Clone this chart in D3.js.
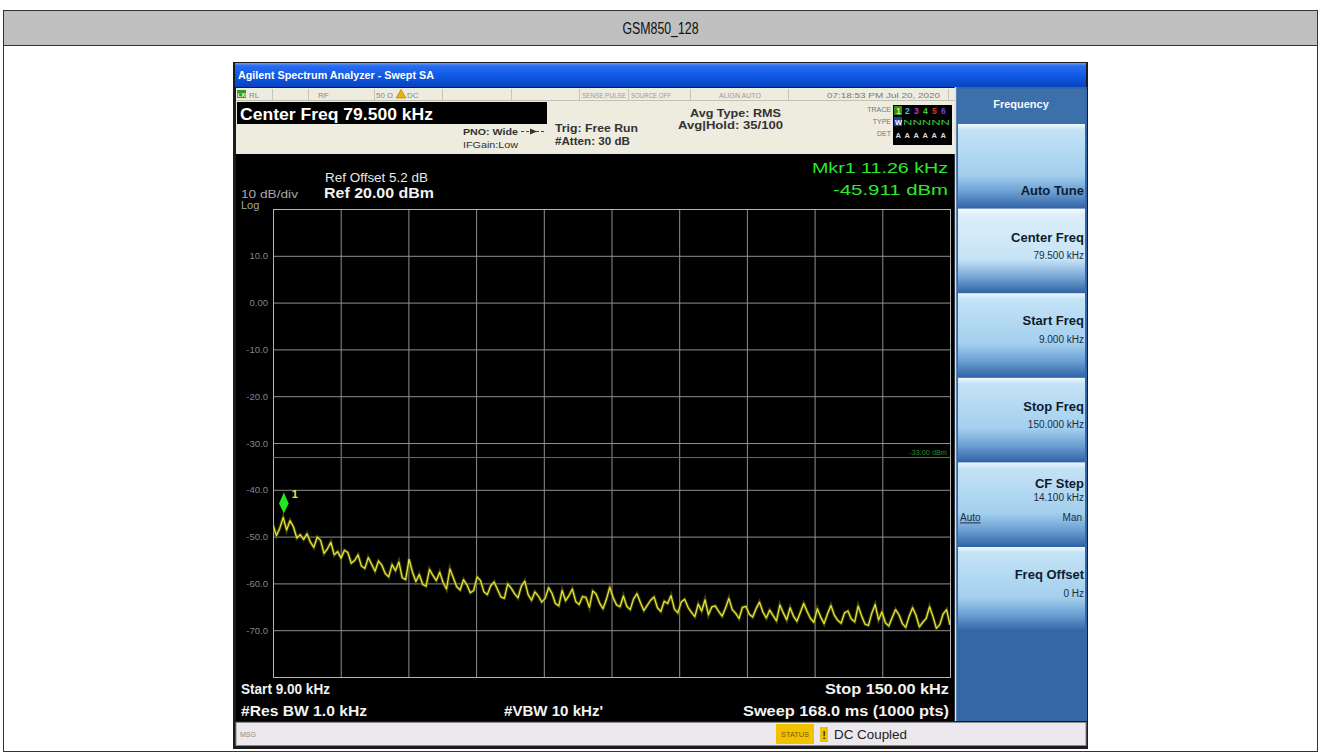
<!DOCTYPE html>
<html>
<head>
<meta charset="utf-8">
<script src="https://cdn.jsdelivr.net/npm/d3@7"></script>
<style>
  body { margin: 0; background: #fff; }
  text { font-family: "Liberation Sans", Arial, sans-serif; }
</style>
</head>
<body>
<svg id="chart" width="1321" height="755"></svg>
<script>
// ---- chart values ----
var chartTitle = "GSM850_128";
var startFreq = 9.0, stopFreq = 150.0;           // kHz
var refLevel = 20, dbPerDiv = 10, numDivs = 10;   // dBm
var yTickValues = [10, 0, -10, -20, -30, -40, -50, -60, -70];
var yTickLabels = ["10.0", "0.00", "-10.0", "-20.0", "-30.0", "-40.0", "-50.0", "-60.0", "-70.0"];
var displayLine = -33.0;
var markerFreq = 11.26, markerLevel = -45.911;

// trace levels (dBm), evenly spaced over the sweep
var traceLevels = [
  -47.5, -49.8, -48.2, -45.9, -48.6, -46.6, -47.9, -50.3, -49.6, -50.6,
  -49.4, -51.2, -52.3, -50.1, -50.8, -53.6, -52.6, -51.2, -53.9, -53.2,
  -54.6, -52.9, -53.4, -55.7, -55.1, -53.9, -56.3, -56.8, -54.5, -55.9,
  -57.4, -55.2, -56.1, -57.9, -58.6, -56.0, -57.3, -55.4, -58.8, -59.2,
  -54.8, -57.6, -59.6, -58.1, -60.2, -60.6, -57.0, -58.3, -59.4, -57.6,
  -59.8, -61.2, -56.9, -58.8, -60.7, -61.4, -59.2, -60.3, -62.0, -61.5,
  -58.6, -59.4, -61.8, -62.4, -60.5, -59.7, -61.3, -62.9, -63.2, -60.1,
  -61.0, -62.2, -63.1, -60.6, -59.5, -62.4, -63.6, -61.8, -62.7, -64.0,
  -63.2, -60.9, -62.1, -64.3, -64.8, -61.5, -63.7, -62.6, -61.2, -63.9,
  -64.5, -62.8, -63.0, -65.1, -61.6, -62.3, -64.2, -65.4, -63.4, -60.8,
  -63.1, -64.6, -65.0, -62.7, -64.9, -65.6, -63.3, -62.2, -64.1, -65.8,
  -64.7, -63.6, -62.9, -65.2, -66.0, -63.8, -64.3, -62.6, -65.5, -66.3,
  -64.0, -63.4, -65.1, -66.2, -67.1, -64.4, -65.9, -63.5, -66.7, -65.0,
  -64.8, -66.0, -67.0, -65.3, -63.2, -65.6, -66.4, -67.5, -65.1, -64.9,
  -66.6, -67.2, -65.4, -64.0, -66.1, -67.4, -65.7, -66.9, -68.0, -64.6,
  -66.3, -67.8, -65.2, -67.0, -68.1, -66.2, -64.3, -66.0, -67.5, -68.3,
  -65.4, -67.2, -68.6, -66.5, -64.7, -66.8, -67.9, -68.5, -66.3, -65.9,
  -67.6, -68.2, -64.8, -66.9, -68.7, -69.0, -66.4, -64.5, -67.8, -66.1,
  -68.4, -69.1, -67.3, -65.6, -66.7, -68.6, -69.4, -67.0, -65.2, -66.8,
  -69.3, -68.3, -67.5, -65.0, -67.1, -69.6, -68.8, -66.5, -65.6, -68.9
];

var softKeyLabels = ["Auto Tune", "Center Freq", "Start Freq", "Stop Freq", "CF Step", "Freq Offset"];
var softKeyValues = ["", "79.500 kHz", "9.000 kHz", "150.000 kHz", "14.100 kHz", "0 Hz"];

var svg = d3.select("#chart");
var defs = svg.append("defs");

function vgrad(id, stops) {
  var lg = defs.append("linearGradient").attr("id", id)
    .attr("x1", 0).attr("y1", 0).attr("x2", 0).attr("y2", 1);
  stops.forEach(function (s) {
    lg.append("stop").attr("offset", s[0]).attr("stop-color", s[1]);
  });
}
vgrad("titleGrad", [["0%", "#6a9ef2"], ["12%", "#2a6cf0"], ["55%", "#0e58e6"], ["100%", "#0843bd"]]);
vgrad("keyGrad", [["0%", "#eef7fd"], ["7%", "#c4e3f6"], ["60%", "#a3cfee"], ["80%", "#6c9fd3"], ["100%", "#2f62a3"]]);
vgrad("keyGradSel", [["0%", "#f7fbfe"], ["7%", "#dcefFa"], ["60%", "#c6e3f6"], ["80%", "#7aa9d8"], ["100%", "#2f62a3"]]);

function txt(g, x, y, s, o) {
  o = o || {};
  var t = g.append("text")
    .attr("x", x).attr("y", y)
    .attr("text-anchor", o.anchor || "start")
    .attr("fill", o.fill || "#000")
    .style("font-size", (o.size || 11) + "px")
    .text(s);
  if (o.bold) t.style("font-weight", "bold");
  if (o.w) t.attr("textLength", o.w).attr("lengthAdjust", "spacingAndGlyphs");
  return t;
}

// ---- page frame and title ----
svg.append("rect").attr("x", 3.5).attr("y", 10.5).attr("width", 1314).attr("height", 741)
  .attr("fill", "#fff").attr("stroke", "#333");
svg.append("rect").attr("x", 3.5).attr("y", 10.5).attr("width", 1314).attr("height", 35)
  .attr("fill", "#c0c0c0").attr("stroke", "#333");
txt(svg, 660.5, 34, chartTitle, {anchor: "middle", size: 16, fill: "#111", w: 76});

// ---- analyzer window ----
svg.append("rect").attr("x", 233).attr("y", 62).attr("width", 855).attr("height", 687).attr("fill", "#1c1c1c");
svg.append("rect").attr("x", 235).attr("y", 63).attr("width", 851).attr("height", 24).attr("fill", "url(#titleGrad)");
txt(svg, 238, 79, "Agilent Spectrum Analyzer - Swept SA", {size: 10.5, bold: true, fill: "#fff", w: 196});

// settings header
var hdr = svg.append("g");
hdr.append("rect").attr("x", 236).attr("y", 88).attr("width", 719).attr("height", 66).attr("fill", "#eeebdf");
hdr.append("line").attr("x1", 236).attr("x2", 955).attr("y1", 100.5).attr("y2", 100.5).attr("stroke", "#c4c0b2");
[272, 308, 374, 442, 511, 579, 628, 690, 788, 948].forEach(function (sx) {
  hdr.append("line").attr("x1", sx + 0.5).attr("x2", sx + 0.5).attr("y1", 89).attr("y2", 100).attr("stroke", "#c8c4b6");
});
hdr.append("rect").attr("x", 237).attr("y", 90).attr("width", 9).attr("height", 8).attr("fill", "#3a9a2a");
txt(hdr, 237.5, 97, "LXI", {size: 6, fill: "#e8ffe0", bold: true});
txt(hdr, 249, 97.5, "RL", {size: 8, fill: "#8a8a8a"});
txt(hdr, 318, 97.5, "RF", {size: 8, fill: "#8a8a8a"});
txt(hdr, 376, 97.5, "50 Ω", {size: 8, fill: "#8a8a8a"});
hdr.append("path").attr("d", "M396,98 L401,89.5 L406,98 Z").attr("fill", "#e8b400").attr("stroke", "#8a6a00").attr("stroke-width", 0.5);
txt(hdr, 407, 97.5, "DC", {size: 8, fill: "#8a8a8a"});
txt(hdr, 582, 97.5, "SENSE:PULSE", {size: 7.5, fill: "#9a9a9a", w: 44});
txt(hdr, 631, 97.5, "SOURCE OFF", {size: 7.5, fill: "#9a9a9a", w: 40});
txt(hdr, 719, 97.5, "ALIGN AUTO", {size: 7.5, fill: "#9a9a9a", w: 42});
txt(hdr, 827, 97.5, "07:18:53 PM Jul 20, 2020", {size: 8, fill: "#777", w: 113});

hdr.append("rect").attr("x", 237).attr("y", 102).attr("width", 310).attr("height", 22).attr("fill", "#000");
txt(hdr, 240, 120, "Center Freq 79.500 kHz", {size: 16, bold: true, fill: "#fff", w: 193});
txt(hdr, 463, 135, "PNO: Wide", {size: 9.5, bold: true, fill: "#333", w: 55});
hdr.append("line").attr("x1", 521).attr("x2", 545).attr("y1", 131.5).attr("y2", 131.5)
  .attr("stroke", "#444").attr("stroke-dasharray", "3,2");
hdr.append("path").attr("d", "M530,128.5 L537,131.5 L530,134.5 Z").attr("fill", "#333");
txt(hdr, 463, 148, "IFGain:Low", {size: 9.5, fill: "#333", w: 55});
txt(hdr, 555, 132, "Trig: Free Run", {size: 11, bold: true, fill: "#333", w: 83});
txt(hdr, 555, 145, "#Atten: 30 dB", {size: 11, bold: true, fill: "#333", w: 75});
txt(hdr, 690, 117, "Avg Type: RMS", {size: 11, bold: true, fill: "#333", w: 91});
txt(hdr, 678, 129, "Avg|Hold: 35/100", {size: 11, bold: true, fill: "#333", w: 105});

// trace / type / det box
var traceColors = ["#f0f040", "#30c8f0", "#d030c8", "#40d040", "#e03030", "#7040e0"];
hdr.append("rect").attr("x", 893).attr("y", 105).attr("width", 59).attr("height", 40).attr("fill", "#000");
txt(hdr, 891, 112, "TRACE", {anchor: "end", size: 7, fill: "#777"});
txt(hdr, 891, 124, "TYPE", {anchor: "end", size: 7, fill: "#777"});
txt(hdr, 891, 136, "DET", {anchor: "end", size: 7, fill: "#777"});
hdr.append("rect").attr("x", 894).attr("y", 106).attr("width", 8).attr("height", 9).attr("fill", "#2e8a22");
traceColors.forEach(function (c, k) {
  txt(hdr, 896 + k * 9, 114, String(k + 1), {size: 8.5, bold: true, fill: c});
  txt(hdr, 895.5 + k * 9, 138, "A", {size: 7.5, bold: true, fill: "#ddd"});
});
hdr.append("rect").attr("x", 894).attr("y", 117).attr("width", 8).attr("height", 9).attr("fill", "#2040a0");
txt(hdr, 895, 125, "W", {size: 7.5, bold: true, fill: "#fff"});
txt(hdr, 903, 125, "NNNNN", {size: 7.5, fill: "#40c040", w: 47});

// ---- graph area ----
var screen = svg.append("g");
screen.append("rect").attr("x", 236).attr("y", 154).attr("width", 719).attr("height", 567).attr("fill", "#000");

var x = d3.scaleLinear().domain([startFreq, stopFreq]).range([273, 950]);
var y = d3.scaleLinear().domain([refLevel - dbPerDiv * numDivs, refLevel]).range([677, 209]);
var width = x.range()[1] - x.range()[0];
var height = y.range()[0] - y.range()[1];

// gridlines
var xGrid = d3.range(numDivs + 1).map(function (i) { return startFreq + i * (stopFreq - startFreq) / numDivs; });
var yGrid = d3.range(numDivs + 1).map(function (j) { return refLevel - j * dbPerDiv; });

screen.append("g")
  .attr("class", "grid")
  .attr("transform", "translate(0," + y.range()[0] + ")")
  .call(d3.axisBottom(x).tickValues(xGrid).tickSize(-height).tickFormat(""))
  .call(function (g) { g.select(".domain").remove(); });
screen.append("g")
  .attr("class", "grid")
  .attr("transform", "translate(" + x.range()[0] + ",0)")
  .call(d3.axisLeft(y).tickValues(yGrid).tickSize(-width).tickFormat(""))
  .call(function (g) { g.select(".domain").remove(); });
screen.selectAll(".grid line").attr("stroke", "#8f8f8f").attr("stroke-width", 1);
screen.append("rect").attr("x", x.range()[0] + 0.5).attr("y", y.range()[1] + 0.5)
  .attr("width", width).attr("height", height)
  .attr("fill", "none").attr("stroke", "#b4b4b4");

// y tick labels
yTickValues.forEach(function (v, i) {
  txt(screen, 268, y(v) + 3.5, yTickLabels[i], {anchor: "end", size: 9.5, fill: "#858585"});
});

// display line
screen.append("line")
  .attr("x1", x(startFreq)).attr("x2", x(stopFreq))
  .attr("y1", y(displayLine) + 0.5).attr("y2", y(displayLine) + 0.5)
  .attr("stroke", "#1f9a1f").attr("stroke-width", 1);
txt(screen, 947, y(displayLine) - 2, displayLine.toFixed(2) + " dBm", {anchor: "end", size: 6.5, fill: "#2a8a2a", w: 38});

// trace
screen.append("clipPath").attr("id", "plotClip").append("rect")
  .attr("x", x.range()[0]).attr("y", y.range()[1]).attr("width", width).attr("height", height);
var step = (stopFreq - startFreq) / (traceLevels.length - 1);
var line = d3.line()
  .x(function (d, i) { return x(startFreq + i * step); })
  .y(function (d) { return y(d); });
var traceG = screen.append("g").attr("clip-path", "url(#plotClip)");
traceG.append("path").datum(traceLevels).attr("d", line)
  .attr("fill", "none").attr("stroke", "#6a6a14").attr("stroke-width", 3.2).attr("opacity", 0.6);
traceG.append("path").datum(traceLevels).attr("d", line)
  .attr("fill", "none").attr("stroke", "#e4e436").attr("stroke-width", 1.3).attr("stroke-linejoin", "round");

// marker 1
var mx = x(markerFreq), my = y(markerLevel);
screen.append("path")
  .attr("d", "M" + mx + "," + (my - 4) + " L" + (mx + 4.8) + "," + (my - 14) + " L" + mx + "," + (my - 25) + " L" + (mx - 4.8) + "," + (my - 14) + " Z")
  .attr("fill", "#22e622");
txt(screen, mx + 8, my - 19, "1", {size: 11, bold: true, fill: "#e6e050"});

// screen annotations
txt(screen, 325, 182, "Ref Offset 5.2 dB", {size: 12, fill: "#e8e8e8", w: 103});
txt(screen, 324, 198, "Ref 20.00 dBm", {size: 14, bold: true, fill: "#f0f0f0", w: 110});
txt(screen, 241, 198, "10 dB/div", {size: 11, fill: "#a8a8a8", w: 57});
txt(screen, 241, 209, "Log", {size: 11, fill: "#a8a8a8"});
txt(screen, 948, 173, "Mkr1 " + markerFreq.toFixed(2) + " kHz", {anchor: "end", size: 15, fill: "#2ee82e", w: 136});
txt(screen, 948, 195, markerLevel.toFixed(3) + " dBm", {anchor: "end", size: 15, fill: "#2ee82e", w: 115});

txt(screen, 241, 694, "Start " + startFreq.toFixed(2) + " kHz", {size: 15, bold: true, fill: "#f2f2f2", w: 89});
txt(screen, 241, 716, "#Res BW 1.0 kHz", {size: 15, bold: true, fill: "#f2f2f2", w: 126});
txt(screen, 504, 716, "#VBW 10 kHz'", {size: 15, bold: true, fill: "#f2f2f2", w: 99});
txt(screen, 949, 694, "Stop " + stopFreq.toFixed(2) + " kHz", {anchor: "end", size: 15, bold: true, fill: "#f2f2f2", w: 124});
txt(screen, 949, 716, "Sweep  168.0 ms (1000 pts)", {anchor: "end", size: 15, bold: true, fill: "#f2f2f2", w: 206});

// ---- soft key panel ----
var panel = svg.append("g");
panel.append("rect").attr("x", 955).attr("y", 87).attr("width", 132).attr("height", 634).attr("fill", "#3566a6");
panel.append("line").attr("x1", 955.5).attr("x2", 955.5).attr("y1", 87).attr("y2", 721).attr("stroke", "#d8e2ec").attr("stroke-width", 1.5);
panel.append("rect").attr("x", 958).attr("y", 89).attr("width", 127).attr("height", 35).attr("fill", "#3c70ab");
txt(panel, 1021, 108, "Frequency", {anchor: "middle", size: 11, bold: true, fill: "#f4f8ff"});

var keyTop = 124, keyH = 84.6;
// label / value baselines relative to each key's top
var labelDy = [71, 33, 32, 33, 26, 32];
var valueDy = [0, 50, 50, 50, 39, 50];
softKeyLabels.forEach(function (lab, k) {
  var ky = keyTop + k * keyH;
  panel.append("rect").attr("x", 958).attr("y", ky).attr("width", 127).attr("height", keyH)
    .attr("fill", k === 1 ? "url(#keyGradSel)" : "url(#keyGrad)");
  txt(panel, 1084, ky + labelDy[k], lab, {anchor: "end", size: 13, bold: true, fill: "#0c1c30"});
  if (softKeyValues[k]) {
    txt(panel, 1084, ky + valueDy[k], softKeyValues[k], {anchor: "end", size: 10, fill: "#1c2c40"});
  }
  if (lab === "CF Step") {
    txt(panel, 960, ky + 59, "Auto", {size: 10, fill: "#1c2c40"})
      .style("text-decoration", "underline");
    txt(panel, 1082, ky + 59, "Man", {anchor: "end", size: 10, fill: "#1c2c40"});
  }
});

// ---- status bar ----
var bar = svg.append("g");
bar.append("rect").attr("x", 236).attr("y", 722.5).attr("width", 850).attr("height", 23)
  .attr("fill", "#ece8ed").attr("stroke", "#8a8a8a");
txt(bar, 240, 737, "MSG", {size: 7, fill: "#8a8a8a"});
bar.append("rect").attr("x", 776).attr("y", 724).attr("width", 38).attr("height", 20).attr("fill", "#f2c200");
txt(bar, 795, 737, "STATUS", {anchor: "middle", size: 7, fill: "#7a5a00", w: 28});
bar.append("rect").attr("x", 820).attr("y", 727).attr("width", 8).attr("height", 15).attr("fill", "#f2c200");
txt(bar, 824, 739, "!", {anchor: "middle", size: 11, bold: true, fill: "#333"});
txt(bar, 834, 739, "DC Coupled", {size: 12, fill: "#222", w: 73});
</script>
</body>
</html>
